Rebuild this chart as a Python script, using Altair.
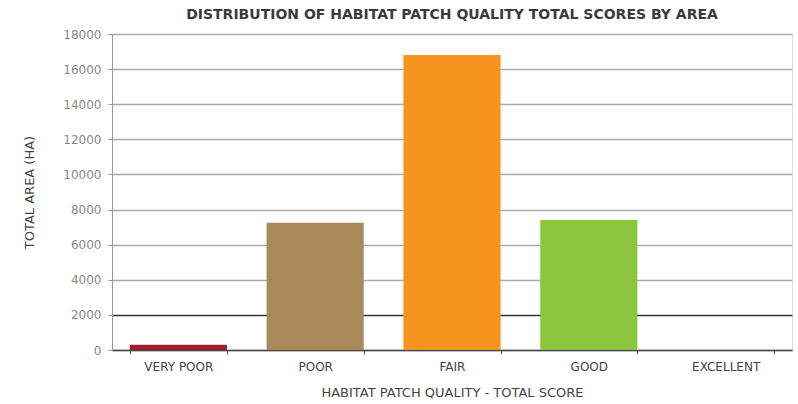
import altair as alt
import pandas as pd

# Habitat patch quality classes and their total area (ha)
categories = ["VERY POOR", "POOR", "FAIR", "GOOD", "EXCELLENT"]
area_ha = [300, 7250, 16800, 7400, 0]
bar_colors = ["#9e1c2c", "#a88a5a", "#f7941d", "#8cc63e", "#7f7f7f"]

df = pd.DataFrame({"quality": categories, "area": area_ha})

FONT = "DejaVu Sans"

chart = (
    alt.Chart(df)
    .mark_bar()
    .encode(
        x=alt.X(
            "quality:N",
            sort=categories,
            title="HABITAT PATCH QUALITY - TOTAL SCORE",
            scale=alt.Scale(paddingInner=0.29, paddingOuter=0.13),
            axis=alt.Axis(
                labelAngle=0,
                labelFont=FONT,
                labelFontSize=12,
                labelColor="#444444",
                labelPadding=7,
                tickBand="extent",
                tickColor="#555555",
                tickSize=4,
                domainColor="#444444",
                domainWidth=1.5,
                titleFont=FONT,
                titleFontSize=13,
                titleFontWeight="normal",
                titleColor="#444444",
                titlePadding=14,
            ),
        ),
        y=alt.Y(
            "area:Q",
            title="TOTAL AREA (HA)",
            scale=alt.Scale(domain=[0, 18000], nice=False),
            axis=alt.Axis(
                values=list(range(0, 18001, 2000)),
                format="d",
                labelFont=FONT,
                labelFontSize=12,
                labelColor="#888888",
                labelPadding=7,
                tickSize=4,
                tickColor="#999999",
                domainColor="#999999",
                gridColor={
                    "condition": {"test": "datum.value == 2000", "value": "#333333"},
                    "value": "#aaaaaa",
                },
                gridWidth=1.5,
                titleFont=FONT,
                titleFontSize=13,
                titleFontWeight="normal",
                titleColor="#444444",
                titlePadding=26,
            ),
        ),
        color=alt.Color(
            "quality:N",
            sort=categories,
            scale=alt.Scale(domain=categories, range=bar_colors),
            legend=None,
        ),
    )
    .properties(
        width=680,
        height=316,
        title=alt.TitleParams(
            "DISTRIBUTION OF HABITAT PATCH QUALITY TOTAL SCORES BY AREA",
            font=FONT,
            fontSize=14,
            fontWeight="bold",
            color="#3a3a3a",
            offset=6,
        ),
        autosize=alt.AutoSizeParams(type="none"),
        padding={"left": 112, "top": 34, "right": 6, "bottom": 54},
    )
    .configure_view(stroke="#aaaaaa", strokeWidth=1.5)
    .configure(background="#ffffff")
)

chart.save("out.html", embed_options={"renderer": "svg", "actions": False})
